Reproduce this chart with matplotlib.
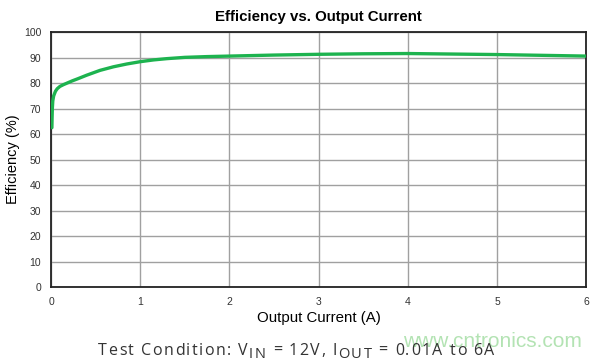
import matplotlib
matplotlib.use("Agg")
import matplotlib.pyplot as plt

current_a = [0.01, 0.012, 0.015, 0.02, 0.03, 0.05, 0.07, 0.1, 0.14, 0.18, 0.24, 0.3, 0.4, 0.55, 0.7, 0.85, 1.0, 1.15, 1.3, 1.5, 1.75, 2.0, 2.5, 3.0, 3.5, 4.0, 4.5, 5.0, 5.5, 6.0]
efficiency = [62.5, 66.0, 70.0, 73.0, 75.0, 76.8, 77.8, 78.7, 79.4, 80.0, 80.9, 81.7, 83.1, 85.0, 86.4, 87.5, 88.4, 89.1, 89.6, 90.1, 90.4, 90.6, 91.0, 91.3, 91.5, 91.6, 91.4, 91.2, 90.9, 90.6]
x_ticks = [0, 1, 2, 3, 4, 5, 6]
y_ticks = [0, 10, 20, 30, 40, 50, 60, 70, 80, 90, 100]

fig = plt.figure(figsize=(6.0, 3.61), dpi=100)
ax = fig.add_axes([0.085, 0.205, 0.892, 0.706])
ax.plot(current_a, efficiency, color="#1db34f", lw=2.4, solid_capstyle="round",
        solid_joinstyle="round", zorder=3)
ax.set_xlim(0, 6)
ax.set_ylim(0, 100)
ax.set_xticks(x_ticks)
ax.set_yticks(y_ticks)
ax.grid(True, color="#a0a0a0", lw=1.0)
ax.tick_params(length=0, labelsize=7.5, labelcolor="#333333")
ax.tick_params(axis="x", pad=7)
ax.tick_params(axis="y", pad=7)
for s in ax.spines.values():
    s.set_color("#222222")
    s.set_linewidth(1.3)
ax.set_title("Efficiency vs. Output Current", fontsize=10.8, fontweight="bold", pad=8, family="Liberation Sans")
ax.set_xlabel("Output Current (A)", fontsize=10.8, labelpad=3, family="Liberation Sans")
ax.set_ylabel("Efficiency (%)", fontsize=10.5, labelpad=3, family="Liberation Sans")
for lab in ax.get_xticklabels() + ax.get_yticklabels():
    lab.set_family("Liberation Sans")

# watermark (behind caption)
fig.text(0.970, 0.028, "www.cntronics.com", fontsize=15, color="#b3e3b3", ha="right", va="bottom",
         family="Liberation Sans", zorder=1)

# caption with subscripts and letter spacing, placed character by character
pieces = [("Test Condition: V", False), ("IN", True), (" = 12V, I", False), ("OUT", True), (" = 0.01A to 6A", False)]
fig.canvas.draw()
renderer = fig.canvas.get_renderer()

def width_px(s, fs):
    probe = fig.text(0, 0, s + "|", fontsize=fs, family="Open Sans")
    bar = fig.text(0, 0, "|", fontsize=fs, family="Open Sans")
    w = probe.get_window_extent(renderer=renderer).width - bar.get_window_extent(renderer=renderer).width
    probe.remove()
    bar.remove()
    return w

spacing = 1.5
x_px = 98.0
base_px = 361 - 355.0
for txt, sub in pieces:
    fs = 10.5 if sub else 11.5
    y = base_px - (3.5 if sub else 0)
    for i, ch in enumerate(txt):
        xi = x_px + width_px(txt[:i], fs) + i * spacing
        if ch != " ":
            fig.text(xi / 600.0, y / 361.0, ch, fontsize=fs, family="Open Sans", color="#333333",
                     ha="left", va="baseline", zorder=2)
    x_px = x_px + width_px(txt, fs) + len(txt) * spacing

fig.savefig("out.png", dpi=100)
